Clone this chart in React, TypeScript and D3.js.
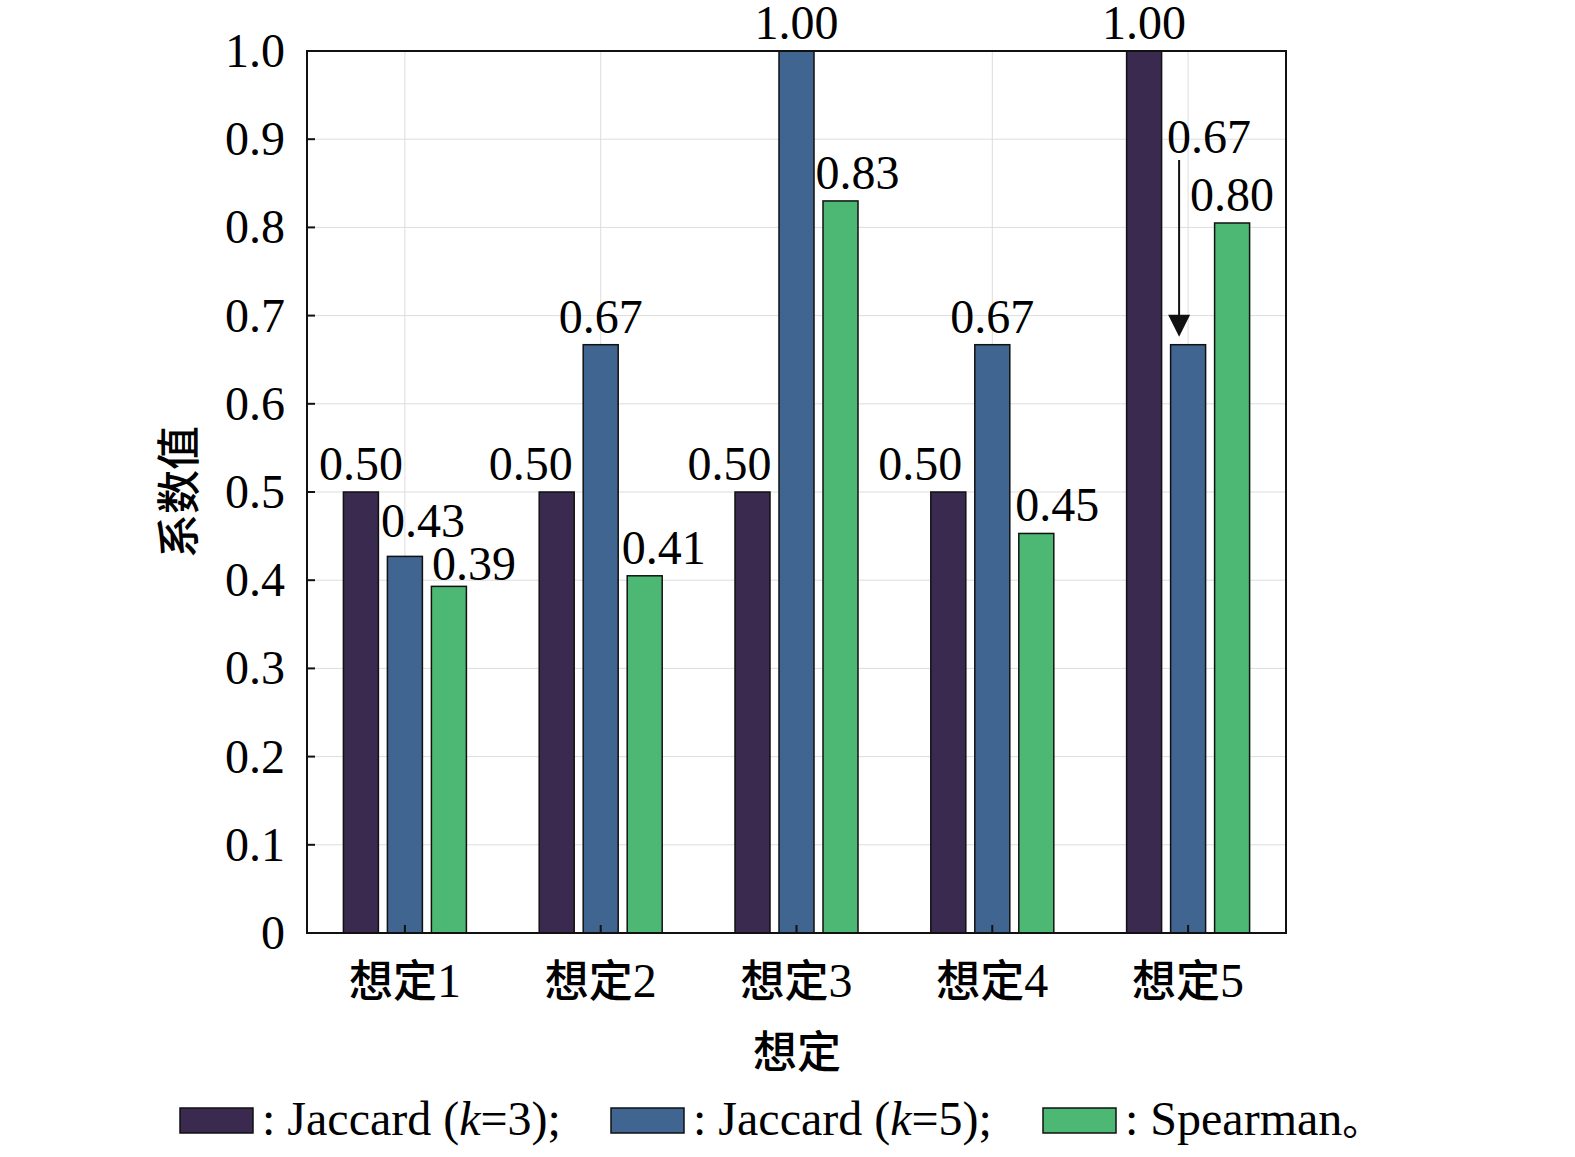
import React from "react";
import * as d3 from "d3";

const categories = ["想定1", "想定2", "想定3", "想定4", "想定5"];
const seriesNames = ["Jaccard (k=3)", "Jaccard (k=5)", "Spearman"];
const jaccard3 = [0.5, 0.5, 0.5, 0.5, 1.0];
const jaccard5 = [0.427, 0.667, 1.0, 0.667, 0.667];
const spearman = [0.393, 0.405, 0.83, 0.453, 0.805];
const labels = [
  ["0.50", "0.50", "0.50", "0.50", "1.00"],
  ["0.43", "0.67", "1.00", "0.67", "0.67"],
  ["0.39", "0.41", "0.83", "0.45", "0.80"],
];
const yTicks = [0, 0.1, 0.2, 0.3, 0.4, 0.5, 0.6, 0.7, 0.8, 0.9, 1.0];
const colors = ["#3b2a4f", "#3f6590", "#4cb873"];
// label nudges (styling)
const labelDx = [
  [0, -26, -23, -28, 0],
  [18, 0, 0, 0, 21],
  [25, 19, 17, 21, 0],
];
const labelDy = [
  [-12, -12, -12, -12, -12],
  [-19, -12, -12, -12, -12],
  [-6, -12, -12, -12, -12],
];

export default function App() {
  const L = 307, R = 1286, T = 51, B = 933;
  const x = d3.scaleBand().domain(categories).range([L, R]).padding(0);
  const y = d3.scaleLinear().domain([0, 1]).range([B, T]);
  const data = [jaccard3, jaccard5, spearman];
  const bw = 35, step = 44;
  const serif = "'Liberation Serif', 'DejaVu Serif', serif";
  const cjk = "'Noto Sans CJK SC', sans-serif";
  const fs = 48;
  return (
    <svg width={1575} height={1157} style={{ position: "absolute", left: 0, top: 0, background: "#fff" }}>
      {yTicks.map((t) => (
        <line key={"g" + t} x1={L} x2={R} y1={y(t)} y2={y(t)} stroke="#ddd" strokeWidth={1} />
      ))}
      {categories.map((c) => (
        <line key={"v" + c} x1={x(c)! + x.bandwidth() / 2} x2={x(c)! + x.bandwidth() / 2} y1={T} y2={B} stroke="#ddd" strokeWidth={1} />
      ))}
      {data.map((s, si) =>
        s.map((v, ci) => {
          const cx = x(categories[ci])! + x.bandwidth() / 2 + (si - 1) * step;
          const isArrow = si === 1 && ci === 4;
          const ly = isArrow ? 153 : y(v) + labelDy[si][ci];
          return (
            <g key={si + "-" + ci}>
              <rect x={cx - bw / 2} y={y(v)} width={bw} height={B - y(v)} fill={colors[si]} stroke="#111" strokeWidth={1.5} />
              <text x={cx + labelDx[si][ci]} y={ly} textAnchor="middle" fontFamily={serif} fontSize={fs}>{labels[si][ci]}</text>
              {isArrow && (
                <g>
                  <line x1={cx - 9} x2={cx - 9} y1={160} y2={y(v) - 25} stroke="#111" strokeWidth={2} />
                  <path d={`M${cx - 20},${y(v) - 30} L${cx + 2},${y(v) - 30} L${cx - 9},${y(v) - 8} Z`} fill="#111" />
                </g>
              )}
            </g>
          );
        })
      )}
      <rect x={L} y={T} width={R - L} height={B - T} fill="none" stroke="#111" strokeWidth={2} />
      {yTicks.map((t) => (
        <g key={"t" + t}>
          <line x1={L} x2={L + 8} y1={y(t)} y2={y(t)} stroke="#111" strokeWidth={2} />
          <text x={285} y={y(t) + 16} textAnchor="end" fontFamily={serif} fontSize={fs}>{t === 0 ? "0" : t.toFixed(1)}</text>
        </g>
      ))}
      {categories.map((c) => (
        <g key={"c" + c}>
          <line x1={x(c)! + x.bandwidth() / 2} x2={x(c)! + x.bandwidth() / 2} y1={B} y2={B - 8} stroke="#111" strokeWidth={2} />
          <text x={x(c)! + x.bandwidth() / 2} y={997} textAnchor="middle" fontSize={fs}>
            <tspan fontFamily={cjk} fontWeight={500} fontSize={44}>{c.slice(0, 2)}</tspan>
            <tspan fontFamily={serif}>{c.slice(2)}</tspan>
          </text>
        </g>
      ))}
      <text x={797} y={1068} textAnchor="middle" fontFamily={cjk} fontWeight={500} fontSize={44}>想定</text>
      <text transform="translate(195,492) rotate(-90)" textAnchor="middle" fontFamily={cjk} fontWeight={500} fontSize={44}>系数值</text>
      <g fontFamily={serif} fontSize={fs}>
        <rect x={180} y={1108} width={73} height={25} fill={colors[0]} stroke="#111" strokeWidth={1.5} />
        <text x={262} y={1135}>: Jaccard (<tspan fontStyle="italic">k</tspan>=3);</text>
        <rect x={611} y={1108} width={73} height={25} fill={colors[1]} stroke="#111" strokeWidth={1.5} />
        <text x={693} y={1135}>: Jaccard (<tspan fontStyle="italic">k</tspan>=5);</text>
        <rect x={1043} y={1108} width={73} height={25} fill={colors[2]} stroke="#111" strokeWidth={1.5} />
        <text x={1125} y={1135}>: Spearman<tspan fontFamily={cjk} fontSize={40}>。</tspan></text>
      </g>
      <desc>{seriesNames.join(",")}</desc>
    </svg>
  );
}
